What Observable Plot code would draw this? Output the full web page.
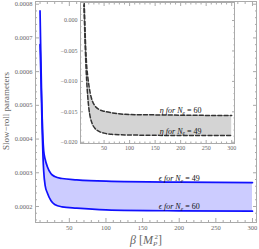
<!DOCTYPE html>
<html><head><meta charset="utf-8">
<script src="https://cdn.jsdelivr.net/npm/d3@7"></script>
<script src="https://cdn.jsdelivr.net/npm/@observablehq/plot@0.6"></script>
<style>
body{margin:0;background:#fff;}
#wrap{position:relative;width:259px;height:249px;overflow:hidden;}
#wrap svg{position:absolute;overflow:visible;background:transparent;}
</style></head><body><div id="wrap"></div>
<script>
// ---- data ----
const betaEps = [10, 11, 12, 13, 14, 15, 17, 20, 25, 30, 40, 60, 100, 200, 300];
const epsNe49 = [0.000780, 0.000660, 0.000545, 0.000460, 0.000400, 0.000365, 0.000340, 0.000318, 0.000297, 0.000289, 0.000283, 0.000279, 0.000275, 0.000272, 0.000271];
const epsNe60 = [0.000680, 0.000600, 0.000510, 0.000420, 0.000350, 0.000305, 0.000262, 0.000240, 0.000217, 0.000206, 0.000199, 0.000195, 0.000190, 0.000187, 0.000186];

const betaEta = [10, 12, 14, 16, 18, 20, 23, 27, 32, 40, 50, 65, 100, 150, 200, 300];
const etaNe60 = [0.006, 0.0005, -0.0045, -0.0075, -0.0092, -0.0105, -0.0120, -0.0132, -0.0140, -0.0146, -0.0149, -0.01515, -0.01545, -0.0155, -0.01555, -0.0156];
const etaNe49 = [0.004, -0.0015, -0.0065, -0.0100, -0.0125, -0.0143, -0.0159, -0.0170, -0.0177, -0.0182, -0.0185, -0.0187, -0.0188, -0.01885, -0.0189, -0.0189];

const betaTicks = [50, 100, 150, 200, 250, 300];
const epsTicks = [0.0002, 0.0003, 0.0004, 0.0005, 0.0006, 0.0007, 0.0008];
const etaTicks = [0, -0.005, -0.010, -0.015, -0.020];
const labelBeta = 200;
const labelNe = [49, 60];

// ---- helpers ----
const FONT = "'Liberation Serif','DejaVu Serif',serif";
const TXT = "#666";
const FR = "#aaa";
const minorBeta = d3.range(10, 301, 10).filter(v => v % 50 !== 0);

function frameTicks(xMaj, xMin, yMaj, yMin, big, small) {
  const o = {fill: "none", label: null, stroke: FR};
  return [
    Plot.axisX({...o, anchor: "bottom", ticks: xMaj, tickSize: -big}),
    Plot.axisX({...o, anchor: "bottom", ticks: xMin, tickSize: -small}),
    Plot.axisX({...o, anchor: "top", ticks: xMaj, tickSize: -big}),
    Plot.axisX({...o, anchor: "top", ticks: xMin, tickSize: -small}),
    Plot.axisY({...o, anchor: "left", ticks: yMaj, tickSize: -big}),
    Plot.axisY({...o, anchor: "left", ticks: yMin, tickSize: -small}),
    Plot.axisY({...o, anchor: "right", ticks: yMaj, tickSize: -big}),
    Plot.axisY({...o, anchor: "right", ticks: yMin, tickSize: -small})
  ];
}

const epsRows = betaEps.map((b, i) => ({beta: b, e49: epsNe49[i], e60: epsNe60[i]}));
const etaRows = betaEta.map((b, i) => ({beta: b, n60: etaNe60[i], n49: etaNe49[i]}));
const iE = betaEps.indexOf(labelBeta);
const iN = betaEta.indexOf(labelBeta);
const epsLabels = labelNe.map(n => ({n, beta: labelBeta, v: n === 49 ? epsNe49[iE] : epsNe60[iE]}));
const etaLabels = labelNe.map(n => ({n, beta: labelBeta, v: n === 49 ? etaNe49[iN] : etaNe60[iN]}));

const xDom = [3.8, 305.5];
const epsMinor = d3.range(0.00016, 0.000801, 0.00002).filter(v => Math.abs(v * 10000 - Math.round(v * 10000)) > 1e-6);
const etaMinor = d3.range(-0.020, 0.0021, 0.001).filter(v => Math.abs(v * 200 - Math.round(v * 200)) > 1e-6);

// ---- main chart ----
const main = Plot.plot({
  width: 259, height: 249,
  marginLeft: 35, marginRight: 3, marginTop: 1, marginBottom: 27,
  style: {fontFamily: FONT, fontSize: "6.5px", background: "transparent"},
  x: {domain: xDom},
  y: {domain: [0.0001525, 0.000808]},
  marks: [
    Plot.areaY(epsRows, {x: "beta", y1: "e60", y2: "e49", fill: "#ccccff", curve: "monotone-x"}),
    Plot.lineY(epsRows, {x: "beta", y: "e49", stroke: "#1010ff", strokeWidth: 1.7, curve: "monotone-x"}),
    Plot.lineY(epsRows, {x: "beta", y: "e60", stroke: "#1010ff", strokeWidth: 1.7, curve: "monotone-x"}),
    Plot.frame({stroke: FR}),
    ...frameTicks(betaTicks, minorBeta, epsTicks, epsMinor, 4, 2),
    Plot.axisX({anchor: "bottom", ticks: betaTicks, tickSize: 0, tickPadding: 3, stroke: "none", fill: TXT, label: null, tickFormat: d => String(d)}),
    Plot.axisY({anchor: "left", ticks: epsTicks, tickSize: 0, tickPadding: 3, stroke: "none", fill: TXT, label: null, tickFormat: d3.format(".4f")}),
    Plot.text(epsLabels, {x: "beta", y: "v", text: d => `ϵ for N_e = ${d.n}`, lineAnchor: "bottom", dy: -1.5, fontSize: 8, fill: "#111"})
  ]
});

// ---- inset ----
const inset = Plot.plot({
  width: 179, height: 155,
  marginLeft: 24, marginRight: 1, marginTop: 2, marginBottom: 12,
  style: {fontFamily: FONT, fontSize: "6px", background: "transparent"},
  x: {domain: xDom},
  y: {domain: [-0.0202, 0.00296]},
  marks: [
    Plot.frame({fill: "white", stroke: "none"}),
    Plot.areaY(etaRows, {x: "beta", y1: "n49", y2: "n60", fill: "#d4d4d4", curve: "monotone-x", clip: true}),
    Plot.lineY(etaRows, {x: "beta", y: "n60", stroke: "#333", strokeWidth: 1.5, strokeDasharray: "4,2.2", curve: "monotone-x", clip: true}),
    Plot.lineY(etaRows, {x: "beta", y: "n49", stroke: "#333", strokeWidth: 1.5, strokeDasharray: "4,2.2", curve: "monotone-x", clip: true}),
    Plot.frame({stroke: FR}),
    ...frameTicks(betaTicks, minorBeta, etaTicks, etaMinor, 3, 1.5),
    Plot.axisX({anchor: "bottom", ticks: betaTicks, tickSize: 0, tickPadding: 2, stroke: "none", fill: TXT, label: null, tickFormat: d => String(d)}),
    Plot.axisY({anchor: "left", ticks: etaTicks, tickSize: 0, tickPadding: 3, stroke: "none", fill: TXT, label: null, tickFormat: d3.format(".3f")}),
    Plot.text(etaLabels, {x: "beta", y: "v", text: d => `η for N_e = ${d.n}`, lineAnchor: "bottom", dy: -2, fontSize: 8, fill: "#111"})
  ]
});

const wrap = document.getElementById("wrap");
main.style.left = "0px"; main.style.top = "0px";
inset.style.left = "56px"; inset.style.top = "0px";
wrap.appendChild(main);
wrap.appendChild(inset);

// rich text for the series labels (italic symbols, subscript e)
for (const svg of [main, inset]) {
  d3.select(svg).selectAll("text").each(function () {
    const m = /^(.) for N_e = (\d+)$/.exec(this.textContent);
    if (!m) return;
    const t = d3.select(this);
    t.text(null);
    t.append("tspan").attr("font-style", "italic").text(m[1] + " for ");
    t.append("tspan").attr("font-style", "italic").text("N");
    t.append("tspan").attr("font-style", "italic").attr("font-size", 5.5).attr("dy", 1.8).text("e");
    t.append("tspan").attr("dy", -1.8).text(" = " + m[2]);
  });
}

// axis titles
const ms = d3.select(main);
ms.append("text")
  .attr("transform", "translate(9,111) rotate(-90)")
  .attr("text-anchor", "middle").attr("fill", TXT)
  .attr("font-family", FONT).attr("font-size", 9)
  .text("Slow\u2212roll parameters");
const xl = ms.append("text")
  .attr("x", 146).attr("y", 244)
  .attr("text-anchor", "middle").attr("fill", TXT)
  .attr("font-family", FONT).attr("font-size", 12);
xl.append("tspan").attr("font-style", "italic").text("β");
xl.append("tspan").text(" [");
xl.append("tspan").attr("font-style", "italic").text("M");
xl.append("tspan").attr("font-style", "italic").attr("font-size", 7).attr("dy", 2).text("P");
xl.append("tspan").attr("font-size", 7).attr("dy", -7).attr("dx", -3).text("2");
xl.append("tspan").attr("dy", 5).text("]");
</script>
</body></html>
